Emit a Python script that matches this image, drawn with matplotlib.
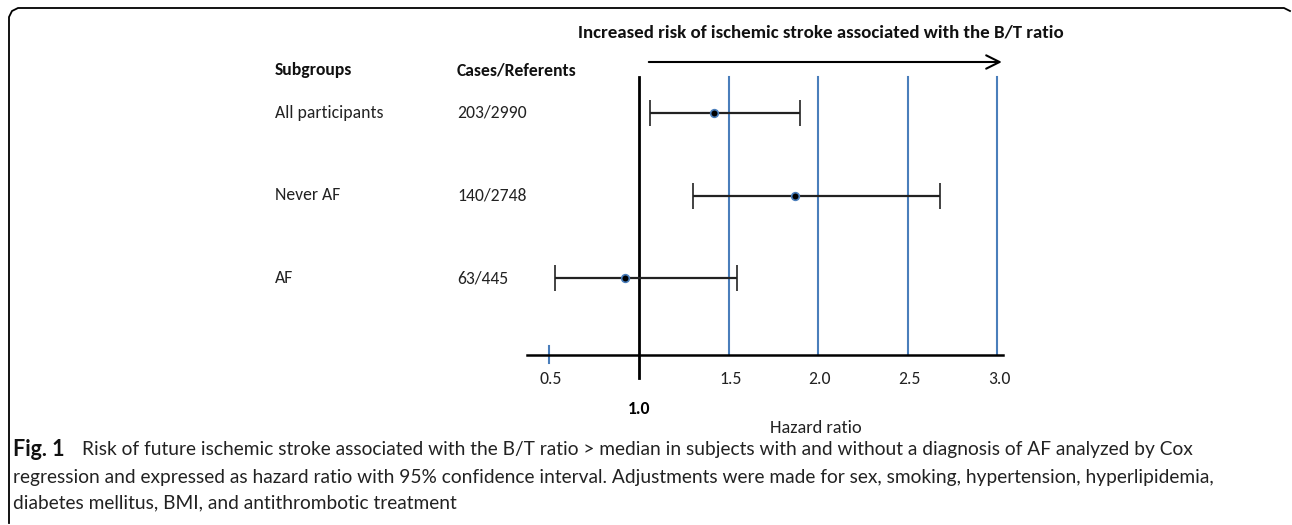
import matplotlib
matplotlib.use('Agg')
import matplotlib.pyplot as plt
from matplotlib import font_manager

# data
subgroups = ['All participants', 'Never AF', 'AF']
cases = ['203/2990', '140/2748', '63/445']
hr = [1.42, 1.87, 0.92]
ci_low = [1.06, 1.30, 0.53]
ci_high = [1.90, 2.68, 1.55]
ref_ticks = [0.5, 1.5, 2.0, 2.5, 3.0]

title = 'Increased risk of ischemic stroke associated with the B/T ratio'
caption_lines = [
    'Risk of future ischemic stroke associated with the B/T ratio > median in subjects with and without a diagnosis of AF analyzed by Cox',
    'regression and expressed as hazard ratio with 95% confidence interval. Adjustments were made for sex, smoking, hypertension, hyperlipidemia,',
    'diabetes mellitus, BMI, and antithrombotic treatment',
]

names = {f.name for f in font_manager.fontManager.ttflist}
chart_font = [f for f in ['Carlito', 'Lato', 'Open Sans'] if f in names][0]
cap_font = [f for f in ['Lato', 'Open Sans'] if f in names][0]

W, H = 1292, 525
fig = plt.figure(figsize=(W / 100, H / 100), dpi=100)

# pixel overlay for frame, labels and caption
pax = fig.add_axes([0, 0, 1, 1])
pax.set_xlim(0, W)
pax.set_ylim(H, 0)
pax.axis('off')

# data axes: x in hazard ratio units, y in pixels
px0, px_per = 549.2, 179.3  # pixel of HR 0.5, pixels per unit
ax = fig.add_axes([0, 0, 1, 1], facecolor='none')
ax.set_xlim(0.5 - px0 / px_per, 0.5 + (W - px0) / px_per)
ax.set_ylim(H, 0)
ax.axis('off')

blue = '#4a7ebb'
fs = 12.7
top, axis_y = 77, 355
row_top, row_gap = 113, 82.5
rows_y = [row_top + i * row_gap for i in range(len(subgroups))]

# reference lines
for t in ref_ticks:
    if t == 0.5:
        ax.plot([t, t], [346, 363], color=blue, lw=1.5)
    else:
        ax.plot([t, t], [top, axis_y], color=blue, lw=1.5)
    ax.text(t + 0.01, 379, f'{t:.1f}', ha='center', va='center', fontsize=fs,
            family=chart_font, color='#222222')
ax.plot([1.0, 1.0], [top, 378], color='black', lw=2)
ax.text(1.0, 409, '1.0', ha='center', va='center', fontsize=fs,
        family=chart_font, fontweight='bold')
ax.plot([0.5 - 22 / px_per, 3.03], [axis_y, axis_y], color='black', lw=1.8)
ax.text(1.99, 428, 'Hazard ratio', ha='center', va='center', fontsize=fs + 0.6,
        family=chart_font, color='#222222')

# arrow and title
ax.annotate('', xy=(3.04, 62), xytext=(1.04, 62),
            arrowprops=dict(arrowstyle='->', color='black', lw=1.5,
                            mutation_scale=24))
pax.text(821, 32, title, ha='center', va='center', fontsize=13.6,
         family=chart_font, fontweight='bold', color='#111111')

# headers and labels
pax.text(275, 70, 'Subgroups', ha='left', va='center', fontsize=fs,
         family=chart_font, fontweight='bold', color='#111111')
pax.text(457, 70, 'Cases/Referents', ha='left', va='center', fontsize=fs,
         family=chart_font, fontweight='bold', color='#111111')
for y, s, c in zip(rows_y, subgroups, cases):
    pax.text(275, y, s, ha='left', va='center', fontsize=fs, family=chart_font,
             color='#222222')
    pax.text(457, y, c, ha='left', va='center', fontsize=fs, family=chart_font,
             color='#222222')

# estimates with CI
ax.errorbar(hr, rows_y,
            xerr=[[h - l for h, l in zip(hr, ci_low)], [u - h for h, u in zip(hr, ci_high)]],
            fmt='o', color='black', ecolor='#222222', elinewidth=1.6, capsize=9.5,
            capthick=1.6, ms=5.5, mfc='black', mec=blue, mew=1.2)

# frame
pax.plot([9, 9, 12, 18, W - 8, W - 2], [H - 2, 17, 11, 8, 8, 11], color='black', lw=1.3)

# caption
cap_fs = 13.8
cap_y = [450, 477, 503]
pax.text(13, cap_y[0], 'Fig. 1', ha='left', va='center', fontsize=15.5,
         family=cap_font, fontweight='bold', color='#111111')
pax.text(82, cap_y[0], caption_lines[0], ha='left', va='center', fontsize=cap_fs,
         family=cap_font, color='#222222')
for y, line in zip(cap_y[1:], caption_lines[1:]):
    pax.text(13, y, line, ha='left', va='center', fontsize=cap_fs, family=cap_font,
             color='#222222')

fig.savefig('out.png', dpi=100)
